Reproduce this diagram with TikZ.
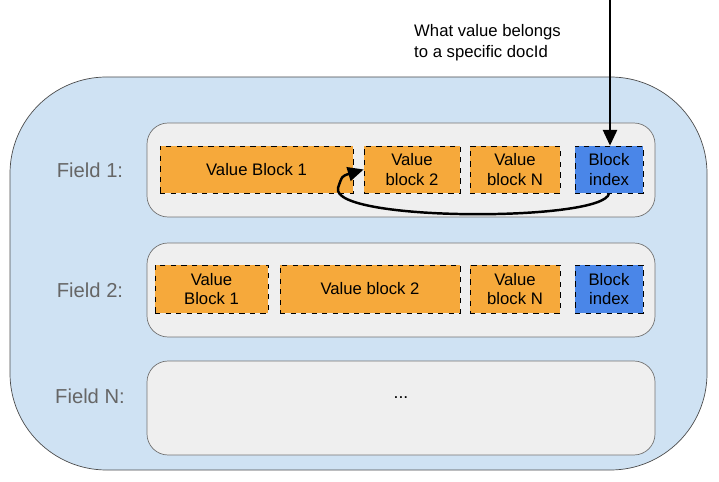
\documentclass[tikz,border=0pt]{standalone}
\usepackage{fontspec}
\setmainfont{Liberation Sans}
\usetikzlibrary{arrows.meta}
\definecolor{outerblue}{HTML}{CFE2F3}
\definecolor{panelgray}{HTML}{EFEFEF}
\definecolor{blockorange}{HTML}{F6A93B}
\definecolor{blockblue}{HTML}{4A86E8}
\definecolor{labelgray}{HTML}{666666}
\tikzset{
  panel/.style={draw=black!55, fill=panelgray, rounded corners=12},
  vblock/.style={draw, dashed, fill=blockorange, align=center, font=\fontsize{9.5}{11}\selectfont},
  iblock/.style={vblock, fill=blockblue},
  fieldlabel/.style={text=labelgray, font=\fontsize{11.5}{13}\selectfont},
}
\begin{document}
\begin{tikzpicture}[x=0.02cm, y=-0.02cm]
  \useasboundingbox (0,0) rectangle (719,482);

  % Hintergrund
  \draw[draw=black!70, fill=outerblue, rounded corners=55] (10,77) rectangle (707,470);

  % Felder
  \draw[panel] (147,123) rectangle (655,217);
  \draw[panel] (147,243) rectangle (655,337);
  \draw[panel] (147,361) rectangle (655,455);
  \node[fieldlabel] (f1) at (90,170) {Field 1:};
  \node[fieldlabel] (f2) at (90,290) {Field 2:};
  \node[fieldlabel] (fn) at (90,396) {Field N:};
  \node (dots) at (401,398) {...};

  % Bloecke Feld 1
  \node[vblock, minimum width=193*0.02cm, minimum height=47*0.02cm] (a1) at (256.5,169.5) {Value Block 1};
  \node[vblock, minimum width=96*0.02cm, minimum height=47*0.02cm] (a2) at (412,169.5) {Value\\block 2};
  \node[vblock, minimum width=90*0.02cm, minimum height=47*0.02cm] (an) at (515,169.5) {Value\\block N};
  \node[iblock, minimum width=68*0.02cm, minimum height=47*0.02cm] (ai) at (609,169.5) {Block\\index};

  % Bloecke Feld 2
  \node[vblock, minimum width=113*0.02cm, minimum height=48*0.02cm] (b1) at (211.5,289) {Value\\Block 1};
  \node[vblock, minimum width=180*0.02cm, minimum height=48*0.02cm] (b2) at (370,289) {Value block 2};
  \node[vblock, minimum width=90*0.02cm, minimum height=48*0.02cm] (bn) at (515,289) {Value\\block N};
  \node[iblock, minimum width=68*0.02cm, minimum height=48*0.02cm] (bi) at (609,289) {Block\\index};

  % Pfeile
  \node[align=left, anchor=north west, font=\fontsize{9.5}{12}\selectfont] (q) at (408,18) {What value belongs\\to a specific docId};
  \coordinate (top) at (610,0);
  \draw[line width=1.4pt, -{Triangle[length=9pt,width=8pt]}] (top) -- (ai.north -| top);
  \draw[line width=1.4pt, -{Triangle[length=9pt,width=8pt]}]
    (ai.south) .. controls (605,222) and (330,222) .. (338,188)
    .. controls (342,176) .. (a2.west);
\end{tikzpicture}
\end{document}
